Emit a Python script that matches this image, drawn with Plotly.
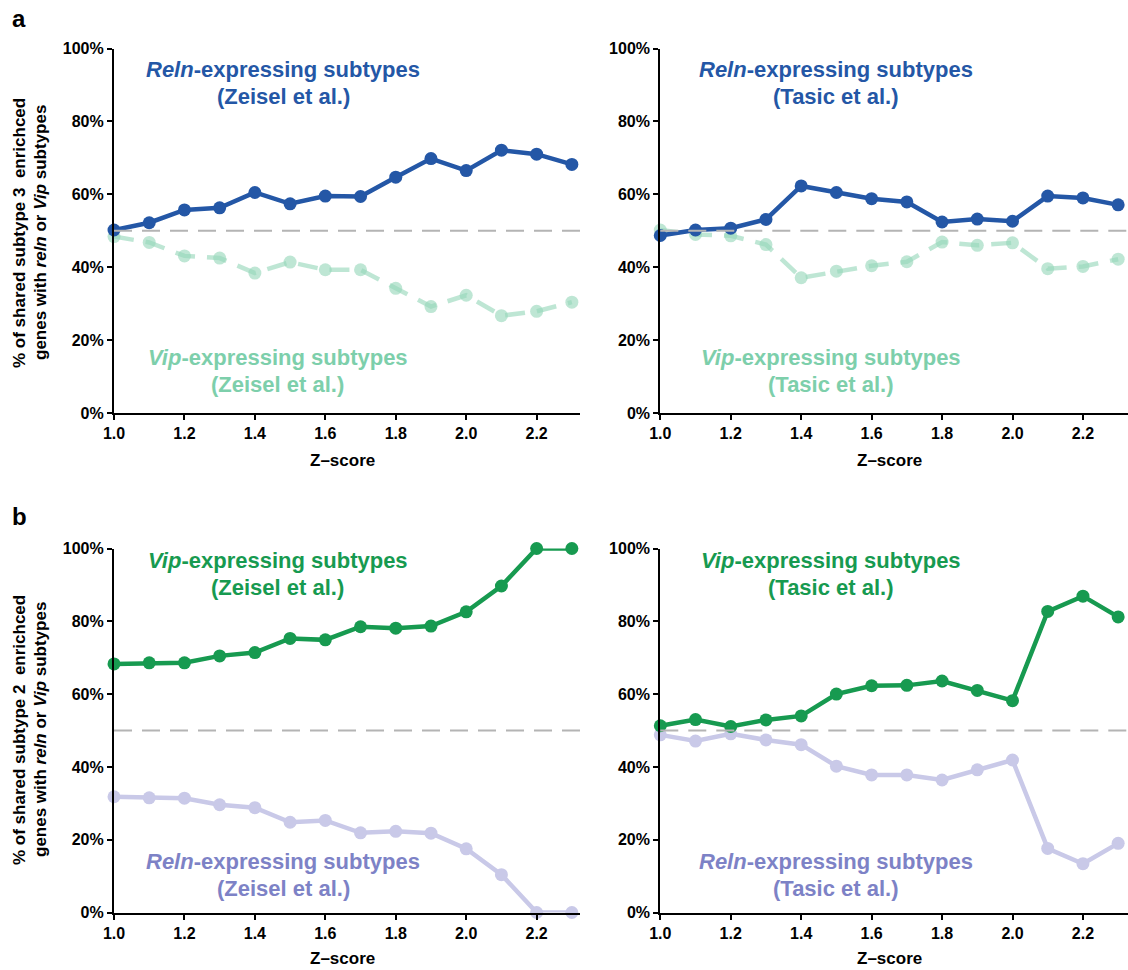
import plotly.graph_objects as go

# Z-score thresholds shared by every panel
z_scores = [1.0, 1.1, 1.2, 1.3, 1.4, 1.5, 1.6, 1.7, 1.8, 1.9, 2.0, 2.1, 2.2, 2.3]

# Panel a: subtype 3 enriched genes
a_zeisel_reln = [50.2, 52.2, 55.7, 56.3, 60.5, 57.4, 59.5, 59.4, 64.7, 69.8, 66.5, 72.1, 71.0, 68.2]
a_zeisel_vip = [48.4, 46.8, 43.1, 42.5, 38.4, 41.4, 39.3, 39.3, 34.2, 29.2, 32.3, 26.7, 27.9, 30.4]
a_tasic_reln = [48.7, 50.2, 50.7, 53.1, 62.3, 60.5, 58.8, 57.9, 52.4, 53.2, 52.6, 59.5, 59.0, 57.1]
a_tasic_vip = [50.2, 49.0, 48.6, 46.2, 37.1, 38.9, 40.4, 41.5, 46.9, 46.0, 46.7, 39.6, 40.2, 42.2]

# Panel b: subtype 2 enriched genes
b_zeisel_vip = [68.3, 68.6, 68.6, 70.5, 71.4, 75.3, 74.9, 78.5, 78.1, 78.7, 82.6, 89.7, 100.0, 100.0]
b_zeisel_reln = [31.8, 31.5, 31.4, 29.6, 28.8, 24.8, 25.3, 21.9, 22.3, 21.8, 17.5, 10.4, 0.0, 0.0]
b_tasic_vip = [51.3, 53.0, 51.1, 52.9, 54.0, 60.0, 62.3, 62.4, 63.6, 61.0, 58.2, 82.7, 86.9, 81.2]
b_tasic_reln = [48.8, 47.1, 49.1, 47.4, 46.1, 40.2, 37.8, 37.8, 36.4, 39.2, 41.9, 17.6, 13.4, 19.0]

y_ticks = [0, 20, 40, 60, 80, 100]
y_tick_text = ["0%", "20%", "40%", "60%", "80%", "100%"]
x_ticks = [1.0, 1.2, 1.4, 1.6, 1.8, 2.0, 2.2]
x_tick_text = ["1.0", "1.2", "1.4", "1.6", "1.8", "2.0", "2.2"]

W, H = 1128, 970
BLUE = "#2457a6"
MINT_LINE = "rgba(150,214,185,0.62)"
MINT_TEXT = "#7dcfab"
GREEN = "#179a50"
LAV_LINE = "#c9c9e8"
LAV_TEXT = "#7d82c6"
GRAY = "#b4b4b4"
FONT = "Liberation Sans, Arial, sans-serif"
TICK_FONT = dict(family=FONT, size=16, color="black", weight="bold")

fig = go.Figure()

# pixel geometry of the four plot areas
left_dom = [114 / W, 580 / W]
right_dom = [660.3 / W, 1.0]
top_dom = [1 - 413 / H, 1 - 48.5 / H]
bot_dom = [1 - 912.5 / H, 1 - 548.5 / H]
px_per_unit = 352.2
left_range = [1.0, 1.0 + (580 - 114) / px_per_unit]
right_range = [1.0, 1.0 + (W - 660.3) / px_per_unit]

panels = [
    # (axis suffix, x domain, y domain, x range)
    ("", left_dom, top_dom, left_range),
    ("2", right_dom, top_dom, right_range),
    ("3", left_dom, bot_dom, left_range),
    ("4", right_dom, bot_dom, right_range),
]

for suf, xd, yd, xr in panels:
    common = dict(showgrid=False, zeroline=False, showline=True, linecolor="black",
                  linewidth=2.2, ticks="outside", ticklen=5, tickwidth=2, tickcolor="black",
                  tickfont=TICK_FONT, fixedrange=True, automargin=False)
    fig.layout["xaxis" + suf] = dict(domain=xd, range=xr, anchor="y" + suf,
                                     tickvals=x_ticks, ticktext=x_tick_text, **common)
    fig.layout["yaxis" + suf] = dict(domain=yd, range=[0, 100], anchor="x" + suf,
                                     tickvals=y_ticks, ticktext=y_tick_text, **common)
    # 50% reference line
    fig.add_shape(type="line", xref=("x" + suf) + " domain", yref="y" + suf,
                  x0=0, x1=1, y0=50, y1=50,
                  line=dict(color=GRAY, width=2.2, dash="18px,10px"))


def add_series(suf, yvals, color, dash="solid", width=4.5, msize=13):
    fig.add_trace(go.Scatter(
        x=z_scores, y=yvals, mode="lines+markers",
        xaxis="x" + suf, yaxis="y" + suf, cliponaxis=False,
        line=dict(color=color, width=width, dash=dash),
        marker=dict(color=color, size=msize),
        showlegend=False, hoverinfo="skip"))


add_series("", a_zeisel_vip, MINT_LINE, dash="20px,12px")
add_series("", a_zeisel_reln, BLUE)
add_series("2", a_tasic_vip, MINT_LINE, dash="20px,12px")
add_series("2", a_tasic_reln, BLUE)
add_series("3", b_zeisel_reln, LAV_LINE)
add_series("3", b_zeisel_vip, GREEN)
add_series("4", b_tasic_reln, LAV_LINE)
add_series("4", b_tasic_vip, GREEN)


def label(suf, x, y1, y2, line1, line2, color):
    for y, txt in ((y1, line1), (y2, line2)):
        fig.add_annotation(x=x, y=y, xref="x" + suf, yref="y" + suf, text=txt,
                           showarrow=False, xanchor="center", yanchor="middle",
                           font=dict(family=FONT, size=22, color=color, weight="bold"))


label("", 1.48, 94.2, 86.8, "<i>Reln</i>-expressing subtypes", "(Zeisel et al.)", BLUE)
label("", 1.465, 15.1, 7.7, "<i>Vip</i>-expressing subtypes", "(Zeisel et al.)", MINT_TEXT)
label("2", 1.50, 94.2, 86.8, "<i>Reln</i>-expressing subtypes", "(Tasic et al.)", BLUE)
label("2", 1.485, 15.1, 7.7, "<i>Vip</i>-expressing subtypes", "(Tasic et al.)", MINT_TEXT)
label("3", 1.465, 96.6, 89.2, "<i>Vip</i>-expressing subtypes", "(Zeisel et al.)", GREEN)
label("3", 1.48, 14.1, 6.7, "<i>Reln</i>-expressing subtypes", "(Zeisel et al.)", LAV_TEXT)
label("4", 1.485, 96.6, 89.2, "<i>Vip</i>-expressing subtypes", "(Tasic et al.)", GREEN)
label("4", 1.50, 14.1, 6.7, "<i>Reln</i>-expressing subtypes", "(Tasic et al.)", LAV_TEXT)

# x-axis titles
for suf, ypix in (("", 460), ("2", 460), ("3", 958), ("4", 958)):
    fig.add_annotation(x=1.65, y=1 - ypix / H, xref="x" + suf, yref="paper", text="Z\u2013score",
                       showarrow=False, xanchor="center", yanchor="middle",
                       font=dict(family=FONT, size=17, color="black", weight="bold"))

# y-axis titles (two lines, rotated)
y_titles = [
    (1 - 233 / H, "% of shared subtype 3\u00a0 enrichced",
     "genes with <i>reln</i> or <i>Vip</i> subtypes"),
    (1 - 730 / H, "% of shared subtype 2\u00a0 enrichced",
     "genes with <i>reln</i> or <i>Vip</i> subtypes"),
]
for yc, l1, l2 in y_titles:
    for xpix, txt in ((19, l1), (40, l2)):
        fig.add_annotation(x=xpix / W, y=yc, xref="paper", yref="paper", text=txt,
                           textangle=-90, showarrow=False, xanchor="center", yanchor="middle",
                           font=dict(family=FONT, size=17, color="black", weight="bold"))

# panel letters
for letter, ypix in (("a", 18), ("b", 516)):
    fig.add_annotation(x=10 / W, y=1 - ypix / H, xref="paper", yref="paper", text=letter,
                       showarrow=False, xanchor="left", yanchor="middle",
                       font=dict(family=FONT, size=24, color="black", weight="bold"))

fig.update_layout(width=W, height=H, margin=dict(l=0, r=0, t=0, b=0, autoexpand=False),
                  paper_bgcolor="white", plot_bgcolor="white")

fig.write_html("out.html")
